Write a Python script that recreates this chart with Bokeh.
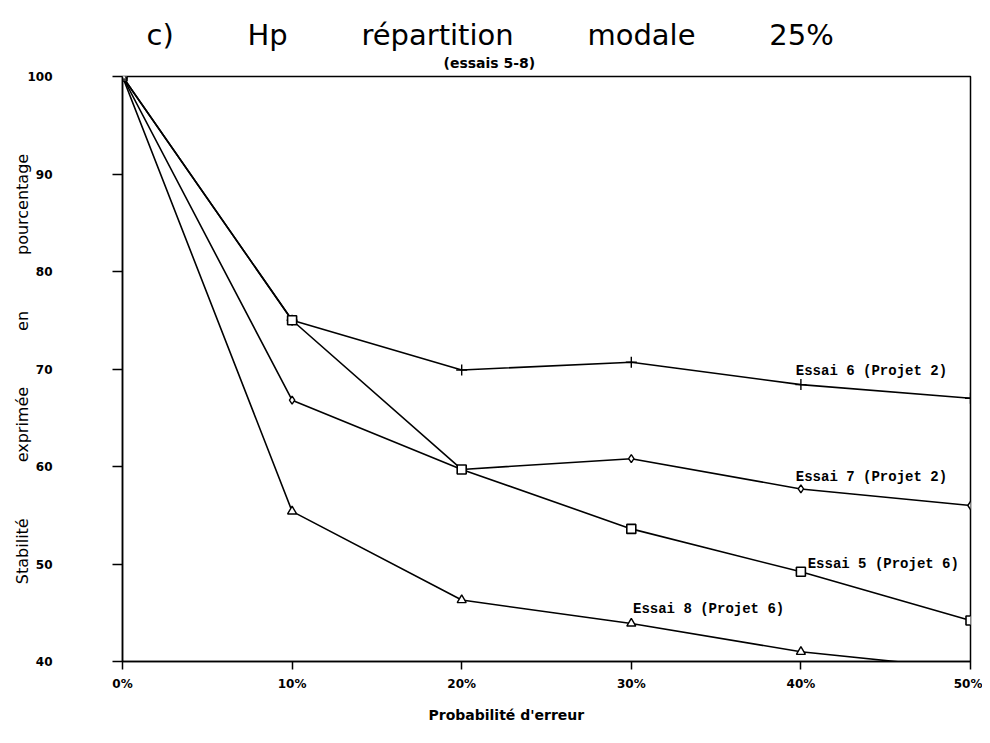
from bokeh.plotting import figure
from bokeh.models import Range1d, FixedTicker, Label, Title
from bokeh.embed import file_html
from bokeh.resources import INLINE

# ---- data ----
x_vals = [0, 10, 20, 30, 40, 50]
x_labels = ["0%", "10%", "20%", "30%", "40%", "50%"]
y_ticks = [40, 50, 60, 70, 80, 90, 100]

essai6 = [100, 75.0, 69.9, 70.7, 68.4, 67.0]
essai7 = [100, 66.8, 59.7, 60.8, 57.7, 56.0]
essai5 = [100, 75.0, 59.7, 53.6, 49.2, 44.2]
essai8 = [100, 55.4, 46.3, 43.9, 41.0, 39.2]

series_names = ["Essai 6 (Projet 2)", "Essai 7 (Projet 2)", "Essai 5 (Projet 6)", "Essai 8 (Projet 6)"]
label_pos = [(39.7, 69.8), (39.7, 58.9), (40.4, 50.0), (30.1, 45.4)]

NB = "\u00a0"
title_text = (NB * 7 + " ").join(["c)", "Hp", "répartition", "modale", "25%"])
subtitle = "(essais 5-8)"
ylabel = (NB * 10 + " ").join(["Stabilité", "exprimée", "en", "pourcentage"])
xlabel = "Probabilité d'erreur"

p = figure(width=982, height=734, output_backend="svg", toolbar_location=None, title=None,
           x_range=Range1d(0, 50), y_range=Range1d(40, 100))
p.min_border_left = 122
p.min_border_right = 12
p.min_border_top = 76
p.min_border_bottom = 73
p.background_fill_color = "white"
p.border_fill_color = "white"
p.outline_line_color = "black"
p.outline_line_width = 1.5
p.grid.visible = False

for ax in (p.xaxis[0], p.yaxis[0]):
    ax.axis_line_color = "black"
    ax.axis_line_width = 1.5
    ax.major_tick_line_color = "black"
    ax.major_tick_line_width = 1.5
    ax.major_tick_in = 0
    ax.minor_tick_line_color = None
    ax.major_label_text_font = "DejaVu Sans"
    ax.major_label_text_font_style = "bold"
    ax.major_label_text_font_size = "12px"
    ax.major_label_text_color = "black"

p.xaxis.ticker = FixedTicker(ticks=x_vals)
p.xaxis.major_label_overrides = {v: l for v, l in zip(x_vals, x_labels)}
p.xaxis.major_tick_out = 8
p.xaxis.major_label_standoff = 7
p.yaxis.ticker = FixedTicker(ticks=y_ticks)
p.yaxis.major_tick_out = 10
p.yaxis.major_label_standoff = 60
p.yaxis.axis_label = ylabel
p.yaxis.axis_label_text_font = "DejaVu Sans"
p.yaxis.axis_label_text_font_style = "normal"
p.yaxis.axis_label_text_font_size = "16px"
p.yaxis.axis_label_text_color = "black"
p.yaxis.axis_label_standoff = -8

series = [essai6, essai7, essai5, essai8]
for ys in series:
    p.line(x_vals, ys, line_color="black", line_width=1.6)

p.scatter(x_vals, essai6, marker="cross", size=11, line_color="black", line_width=1.4)
p.scatter(x_vals, essai7, marker="diamond", size=8, line_color="black", fill_color="white", line_width=1.4)
p.scatter(x_vals, essai5, marker="square", size=9, line_color="black", fill_color="white", line_width=1.6)
p.scatter(x_vals, essai8, marker="triangle", size=9, line_color="black", fill_color="white", line_width=1.4)

for name, (lx, ly) in zip(series_names, label_pos):
    p.add_layout(Label(x=lx, y=ly, text=name, text_font="Liberation Mono", text_font_style="bold",
                       text_font_size="14px", text_baseline="middle", text_align="left", text_color="black"))

# subtitle (closest to frame) then main title
p.add_layout(Title(text=subtitle, align="left", offset=321, standoff=11, text_font="DejaVu Sans",
                   text_font_style="bold", text_font_size="14px", text_color="black"), "above")
p.add_layout(Title(text=title_text, align="left", offset=24, standoff=-8, text_font="DejaVu Sans",
                   text_font_style="normal", text_font_size="29px", text_color="black"), "above")
p.add_layout(Title(text=xlabel, align="left", offset=306, standoff=23, text_font="DejaVu Sans",
                   text_font_style="bold", text_font_size="14px", text_color="black"), "below")

open("out.html", "w").write(file_html(p, INLINE))
